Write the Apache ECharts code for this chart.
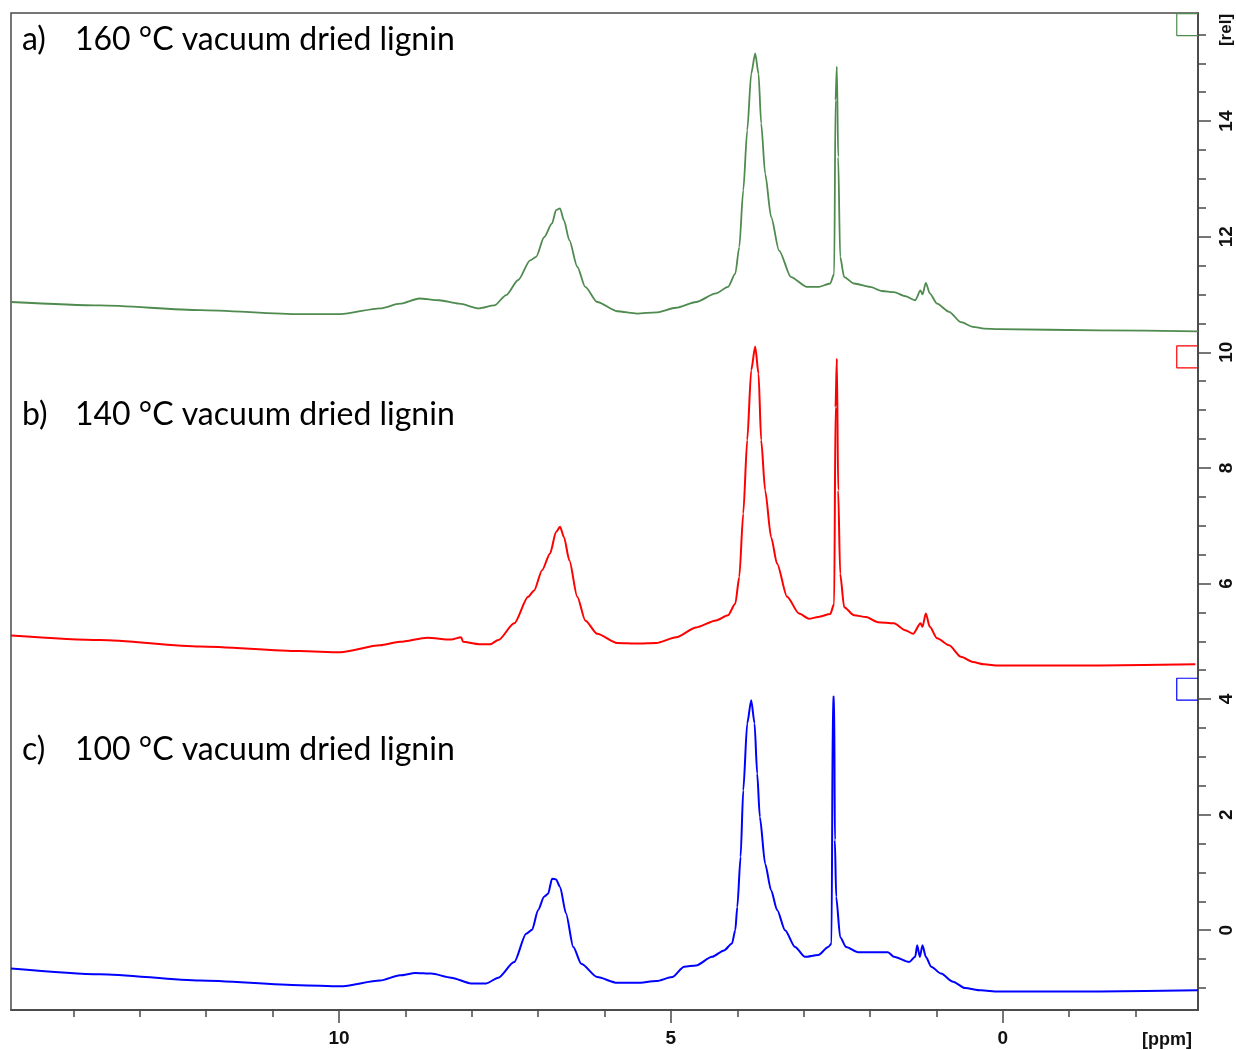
<!DOCTYPE html>
<html>
<head>
<meta charset="utf-8">
<title>1H NMR of vacuum dried lignin</title>
<script src="https://cdn.jsdelivr.net/npm/echarts@6/dist/echarts.min.js"></script>
<style>
  html, body { margin: 0; padding: 0; background: #fff; }
  #chart { width: 1236px; height: 1050px; }
</style>
</head>
<body>
<div id="chart"></div>
<script>
// Chemical shift window (ppm) and intensity window (rel)
const ppmRange = [-2.94, 14.94];
const relRange = [-1.38, 15.87];

// Axis ticks
const ppmMajorTicks = [10, 5, 0];
const ppmMinorTicks = [-2, -1, 0, 1, 2, 3, 4, 5, 6, 7, 8, 9, 10, 11, 12, 13, 14];
const relMajorTicks = [0, 2, 4, 6, 8, 10, 12, 14];
const relMinorTicks = [-1, -0.5, 0, 0.5, 1, 1.5, 2, 2.5, 3, 3.5, 4, 4.5, 5, 5.5, 6, 6.5,
  7, 7.5, 8, 8.5, 9, 9.5, 10, 10.5, 11, 11.5, 12, 12.5, 13, 13.5, 14, 14.5, 15, 15.5];

// Sample names
const sampleTags = ['a)', 'b)', 'c)'];
const sampleNames = ['160 °C vacuum dried lignin', '140 °C vacuum dried lignin', '100 °C vacuum dried lignin'];

// Spectrum a) 160 °C, [ppm, intensity]
const spectrumA = [
  [14.94, 10.87], [13.60, 10.81], [12.09, 10.73], [10.59, 10.66], [9.98, 10.66],
  [9.38, 10.76], [9.08, 10.84], [8.79, 10.93], [8.49, 10.90], [8.19, 10.84],
  [7.89, 10.76], [7.66, 10.81], [7.48, 10.99], [7.30, 11.25], [7.12, 11.59],
  [7.03, 11.65], [6.91, 11.99], [6.79, 12.23], [6.73, 12.46], [6.67, 12.49],
  [6.61, 12.28], [6.53, 11.94], [6.41, 11.48], [6.29, 11.13], [6.11, 10.87],
  [5.81, 10.71], [5.51, 10.67], [5.22, 10.69], [4.92, 10.77], [4.62, 10.87],
  [4.32, 11.02], [4.14, 11.13], [4.03, 11.36], [3.97, 11.82], [3.91, 12.80],
  [3.85, 13.84], [3.79, 14.82], [3.73, 15.17], [3.68, 14.82], [3.64, 13.96],
  [3.58, 13.09], [3.49, 12.34], [3.37, 11.76], [3.19, 11.30], [2.95, 11.13],
  [2.78, 11.13], [2.60, 11.19], [2.54, 11.36], [2.52, 14.36], [2.50, 14.94],
  [2.48, 13.38], [2.45, 11.65], [2.39, 11.30], [2.24, 11.19], [2.00, 11.13],
  [1.82, 11.06], [1.64, 11.04], [1.47, 10.97], [1.32, 10.90], [1.24, 11.07],
  [1.21, 11.00], [1.16, 11.20], [1.10, 11.02], [0.99, 10.84], [0.81, 10.70],
  [0.63, 10.52], [0.45, 10.44], [0.28, 10.41], [0.07, 10.40], [-1.46, 10.38],
  [-2.94, 10.36]
];

// Spectrum b) 140 °C
const spectrumB = [
  [14.94, 5.10], [13.60, 5.02], [12.09, 4.91], [10.59, 4.83], [9.98, 4.81],
  [9.38, 4.93], [9.08, 4.99], [8.67, 5.06], [8.31, 5.03], [8.16, 5.07],
  [8.13, 4.99], [7.89, 4.95], [7.72, 4.95], [7.60, 5.02], [7.36, 5.31],
  [7.15, 5.77], [7.06, 5.88], [6.94, 6.23], [6.82, 6.52], [6.73, 6.89],
  [6.67, 6.98], [6.61, 6.80], [6.53, 6.40], [6.41, 5.77], [6.29, 5.36],
  [6.11, 5.13], [5.81, 4.97], [5.51, 4.96], [5.22, 4.97], [4.92, 5.07],
  [4.62, 5.24], [4.32, 5.36], [4.14, 5.45], [4.03, 5.65], [3.97, 6.11],
  [3.91, 7.21], [3.85, 8.48], [3.79, 9.69], [3.73, 10.10], [3.68, 9.63],
  [3.64, 8.48], [3.58, 7.61], [3.49, 6.80], [3.40, 6.34], [3.25, 5.77],
  [3.07, 5.48], [2.92, 5.39], [2.78, 5.42], [2.60, 5.47], [2.54, 5.65],
  [2.52, 9.05], [2.50, 9.89], [2.48, 7.61], [2.45, 6.17], [2.39, 5.59],
  [2.24, 5.45], [2.06, 5.42], [1.88, 5.33], [1.64, 5.31], [1.47, 5.19],
  [1.35, 5.13], [1.24, 5.31], [1.21, 5.25], [1.16, 5.48], [1.10, 5.25],
  [0.99, 5.05], [0.81, 4.93], [0.63, 4.73], [0.45, 4.64], [0.28, 4.60],
  [0.07, 4.58], [-1.46, 4.58], [-2.90, 4.60]
];

// Spectrum c) 100 °C
const spectrumC = [
  [14.94, -0.66], [13.60, -0.76], [12.09, -0.87], [10.59, -0.95], [9.98, -0.97],
  [9.38, -0.87], [9.08, -0.78], [8.85, -0.74], [8.61, -0.75], [8.31, -0.82],
  [8.01, -0.92], [7.78, -0.92], [7.60, -0.82], [7.36, -0.55], [7.18, -0.06],
  [7.09, 0.01], [7.00, 0.35], [6.91, 0.58], [6.85, 0.63], [6.79, 0.89],
  [6.73, 0.88], [6.67, 0.75], [6.58, 0.29], [6.47, -0.29], [6.35, -0.58],
  [6.11, -0.81], [5.81, -0.91], [5.51, -0.91], [5.22, -0.88], [4.98, -0.81],
  [4.80, -0.63], [4.62, -0.61], [4.38, -0.46], [4.20, -0.35], [4.08, -0.23],
  [4.03, 0.00], [4.00, 0.40], [3.95, 1.27], [3.91, 2.42], [3.85, 3.58],
  [3.79, 3.98], [3.74, 3.58], [3.70, 2.71], [3.66, 1.96], [3.58, 1.15],
  [3.49, 0.69], [3.40, 0.35], [3.28, 0.00], [3.13, -0.29], [2.98, -0.46],
  [2.78, -0.43], [2.63, -0.29], [2.58, -0.23], [2.56, 4.04], [2.54, 4.04],
  [2.53, 1.56], [2.51, 0.58], [2.45, -0.12], [2.36, -0.29], [2.18, -0.38],
  [1.94, -0.38], [1.73, -0.38], [1.64, -0.46], [1.41, -0.55], [1.32, -0.46],
  [1.29, -0.26], [1.25, -0.46], [1.21, -0.26], [1.16, -0.46], [1.08, -0.63],
  [0.93, -0.75], [0.75, -0.89], [0.57, -1.00], [0.33, -1.04], [0.07, -1.06],
  [-1.46, -1.06], [-2.94, -1.04]
];

// Offset markers at the right edge of each trace: [ppm, rel]
const markerA = [[-2.94, 15.86], [-2.62, 15.86], [-2.62, 15.48], [-2.94, 15.48]];
const markerB = [[-2.94, 10.11], [-2.62, 10.11], [-2.62, 9.73], [-2.94, 9.73]];
const markerC = [[-2.94, 4.36], [-2.62, 4.36], [-2.62, 3.98], [-2.94, 3.98]];

const colors = ['#4f8a4f', '#ff0000', '#0000ff'];
const frameColor = '#4a4a4a';
const tickFont = { fontFamily: 'Liberation Sans', fontWeight: 'bold', fontSize: 19, color: '#111' };

const chart = echarts.init(document.getElementById('chart'), null, { renderer: 'canvas' });

function xAxisDef(ticks, len, labels) {
  return {
    type: 'value', min: ppmRange[0], max: ppmRange[1], inverse: true, position: 'bottom',
    axisLine: { show: true, onZero: false, lineStyle: { color: frameColor, width: 1.5 } },
    axisTick: { show: true, length: len, customValues: ticks, lineStyle: { color: frameColor, width: 1.5 } },
    axisLabel: labels ? Object.assign({ show: true, customValues: labels, margin: 19 }, tickFont) : { show: false },
    splitLine: { show: false }
  };
}
function yAxisDef(ticks, len, labels) {
  return {
    type: 'value', min: relRange[0], max: relRange[1], position: 'right',
    axisLine: { show: true, onZero: false, lineStyle: { color: frameColor, width: 1.5 } },
    axisTick: { show: true, length: len, customValues: ticks, lineStyle: { color: frameColor, width: 1.5 } },
    axisLabel: labels ? Object.assign({ show: true, customValues: labels, margin: 19, rotate: 90 }, tickFont) : { show: false },
    splitLine: { show: false }
  };
}

function trace(data, color, width, smooth) {
  return {
    type: 'line', data: data, xAxisIndex: 0, yAxisIndex: 0,
    showSymbol: false, symbol: 'none', clip: true,
    smooth: smooth, smoothMonotone: 'x',
    lineStyle: { color: color, width: width }, silent: true
  };
}

const textLabels = [];
const labelTops = [40, 415, 750];
sampleTags.forEach((tag, i) => {
  textLabels.push({
    type: 'text', x: 22, y: labelTops[i],
    style: { text: tag, fill: '#000', font: '32px Lato', textVerticalAlign: 'middle' }
  });
  textLabels.push({
    type: 'text', x: 75, y: labelTops[i],
    style: { text: sampleNames[i], fill: '#000', font: '32px Lato', textVerticalAlign: 'middle' }
  });
});

chart.setOption({
  animation: false,
  backgroundColor: '#fff',
  grid: {
    left: 11, top: 13, right: 38, bottom: 40,
    show: true, borderColor: frameColor, borderWidth: 1.5, backgroundColor: 'transparent'
  },
  xAxis: [
    xAxisDef(ppmMinorTicks, 7, null),
    xAxisDef(ppmMajorTicks, 13, ppmMajorTicks)
  ],
  yAxis: [
    yAxisDef(relMinorTicks, 8, null),
    yAxisDef(relMajorTicks, 13, relMajorTicks)
  ],
  series: [
    trace(spectrumA, colors[0], 1.8, 0.25),
    trace(spectrumB, colors[1], 2, 0.25),
    trace(spectrumC, colors[2], 2, 0.25),
    trace(markerA, colors[0], 1.2, false),
    trace(markerB, colors[1], 1.2, false),
    trace(markerC, colors[2], 1.2, false)
  ],
  graphic: textLabels.concat([
    {
      type: 'text', x: 1167, y: 1040,
      style: { text: '[ppm]', fill: '#111', font: 'bold 18px "Liberation Sans"', textAlign: 'center', textVerticalAlign: 'middle' }
    },
    {
      type: 'text', x: 1226, y: 30, rotation: Math.PI / 2,
      style: { text: '[rel]', fill: '#111', font: 'bold 17px "Liberation Sans"', textAlign: 'center', textVerticalAlign: 'middle' }
    }
  ])
});
</script>
</body>
</html>
